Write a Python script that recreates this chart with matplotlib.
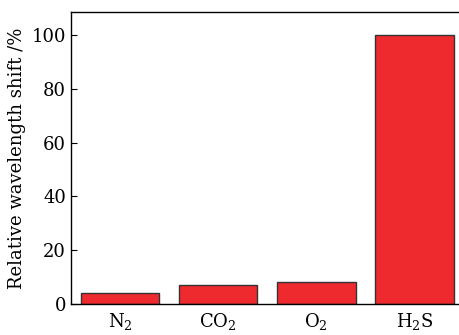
import matplotlib
matplotlib.use("Agg")
import matplotlib.pyplot as plt

categories = ["N$_2$", "CO$_2$", "O$_2$", "H$_2$S"]
values = [4.0, 7.1, 8.0, 100.0]
yticks = [0, 20, 40, 60, 80, 100]

plt.rcParams['font.family'] = ['DejaVu Serif']
plt.rcParams['mathtext.fontset'] = 'dejavuserif'

fig = plt.figure(figsize=(4.59, 3.35), dpi=100)
ax = fig.add_axes([71/459, 1-303.7/335, (459-71)/459+0.01, (303.7-12)/335])
x = range(len(categories))
ax.bar(x, values, width=0.8, color='#EE2A2F', edgecolor='#333333', linewidth=1.0)
ax.set_xlim(-0.5, 3.5)
ax.set_ylim(0, 108.6)
ax.set_yticks(yticks)
ax.set_xticks(list(x))
ax.set_xticklabels(categories)
ax.tick_params(axis='y', direction='in', length=4, labelsize=13)
ax.tick_params(axis='x', length=0, labelsize=13, pad=5)
ax.set_ylabel('Relative wavelength shift /%', fontsize=13)
for s in ax.spines.values():
    s.set_linewidth(1.0)
fig.savefig('out.png', dpi=100)
